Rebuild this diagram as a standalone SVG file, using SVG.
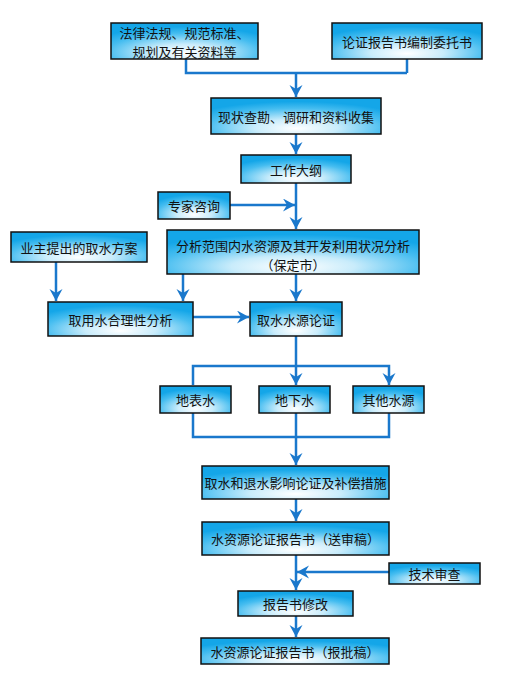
<svg xmlns="http://www.w3.org/2000/svg" width="529" height="698" viewBox="0 0 529 698">
<defs>
<radialGradient id="g" cx="50%" cy="80%" r="70%" fx="50%" fy="85%">
<stop offset="0" stop-color="#ffffff"/>
<stop offset="0.35" stop-color="#c9ecfb"/>
<stop offset="0.75" stop-color="#46bdf0"/>
<stop offset="1" stop-color="#14a6e8"/>
</radialGradient>
<marker id="ar" markerUnits="userSpaceOnUse" markerWidth="14" markerHeight="14" refX="12" refY="6.5" orient="auto">
<path d="M0,0 L12,6.5 L0,13 L4,6.5 z" fill="#1a78cc"/>
</marker>
</defs>
<style>
.b{fill:url(#g);stroke:#111;stroke-width:1.5}
.t{font-family:"Noto Sans CJK SC","Noto Sans",sans-serif;font-size:13px;fill:#111;text-anchor:middle;dominant-baseline:central}
.c{fill:none;stroke:#1a78cc;stroke-width:2.5}
.a{marker-end:url(#ar)}
</style>
<rect width="529" height="698" fill="#fff"/>
<g id="connectors">
<polyline class="c" points="186,59 186,73 407,73"/>
<line class="c" x1="407" y1="59" x2="407" y2="73"/>
<line class="c a" x1="296" y1="73" x2="296" y2="97"/>
<line class="c a" x1="296" y1="134" x2="296" y2="154"/>
<line class="c a" x1="296" y1="183" x2="296" y2="229"/>
<line class="c a" x1="230" y1="205" x2="295" y2="205"/>
<line class="c a" x1="56" y1="262" x2="56" y2="301"/>
<line class="c a" x1="183" y1="274" x2="183" y2="301"/>
<line class="c a" x1="296" y1="274" x2="296" y2="301"/>
<line class="c a" x1="193" y1="317" x2="249" y2="317"/>
<line class="c" x1="296" y1="336" x2="296" y2="366"/>
<polyline class="c a" points="193,385 193,366 389,366 389,385"/>
<line class="c a" x1="296" y1="366" x2="296" y2="385"/>
<polyline class="c" points="193,413 193,437 389,437 389,413"/>
<line class="c" x1="296" y1="413" x2="296" y2="437"/>
<line class="c a" x1="296" y1="437" x2="296" y2="465"/>
<line class="c a" x1="296" y1="499" x2="296" y2="521"/>
<line class="c a" x1="296" y1="555" x2="296" y2="590"/>
<line class="c a" x1="389" y1="572" x2="297" y2="572"/>
<line class="c a" x1="296" y1="616" x2="296" y2="637"/>
</g>
<g id="n1"><rect class="b" x="111" y="23" width="147" height="36"/><text class="t" x="184.5" y="32">法律法规、规范标准、</text><text class="t" x="184.5" y="51">规划及有关资料等</text></g>
<g id="n2"><rect class="b" x="332" y="23" width="150" height="36"/><text class="t" x="407" y="41">论证报告书编制委托书</text></g>
<g id="n3"><rect class="b" x="211" y="98" width="170" height="36"/><text class="t" x="296" y="116">现状查勘、调研和资料收集</text></g>
<g id="n4"><rect class="b" x="241" y="155" width="110" height="28"/><text class="t" x="296" y="169">工作大纲</text></g>
<g id="n5"><rect class="b" x="158" y="192" width="72" height="27"/><text class="t" x="194" y="205.5">专家咨询</text></g>
<g id="n6"><rect class="b" x="167" y="230" width="252" height="44"/><text class="t" x="293" y="245">分析范围内水资源及其开发利用状况分析</text><text class="t" x="293" y="264">（保定市）</text></g>
<g id="n7"><rect class="b" x="11" y="232" width="136" height="30"/><text class="t" x="79" y="247">业主提出的取水方案</text></g>
<g id="n8"><rect class="b" x="48" y="302" width="145" height="34"/><text class="t" x="120.5" y="319">取用水合理性分析</text></g>
<g id="n9"><rect class="b" x="250" y="302" width="92" height="34"/><text class="t" x="296" y="319">取水水源论证</text></g>
<g id="n10"><rect class="b" x="160" y="386" width="71" height="27"/><text class="t" x="195.5" y="399.5">地表水</text></g>
<g id="n11"><rect class="b" x="259" y="386" width="71" height="27"/><text class="t" x="294.5" y="399.5">地下水</text></g>
<g id="n12"><rect class="b" x="353" y="386" width="71" height="27"/><text class="t" x="388.5" y="399.5">其他水源</text></g>
<g id="n13"><rect class="b" x="202" y="466" width="187" height="33"/><text class="t" x="295.5" y="482.5">取水和退水影响论证及补偿措施</text></g>
<g id="n14"><rect class="b" x="202" y="522" width="187" height="33"/><text class="t" x="295.5" y="538.5">水资源论证报告书（送审稿）</text></g>
<g id="n15"><rect class="b" x="389" y="563" width="91" height="21"/><text class="t" x="434.5" y="573.5">技术审查</text></g>
<g id="n16"><rect class="b" x="238" y="591" width="115" height="25"/><text class="t" x="295.5" y="603.5">报告书修改</text></g>
<g id="n17"><rect class="b" x="201" y="638" width="188" height="26"/><text class="t" x="295" y="651">水资源论证报告书（报批稿）</text></g>
</svg>
